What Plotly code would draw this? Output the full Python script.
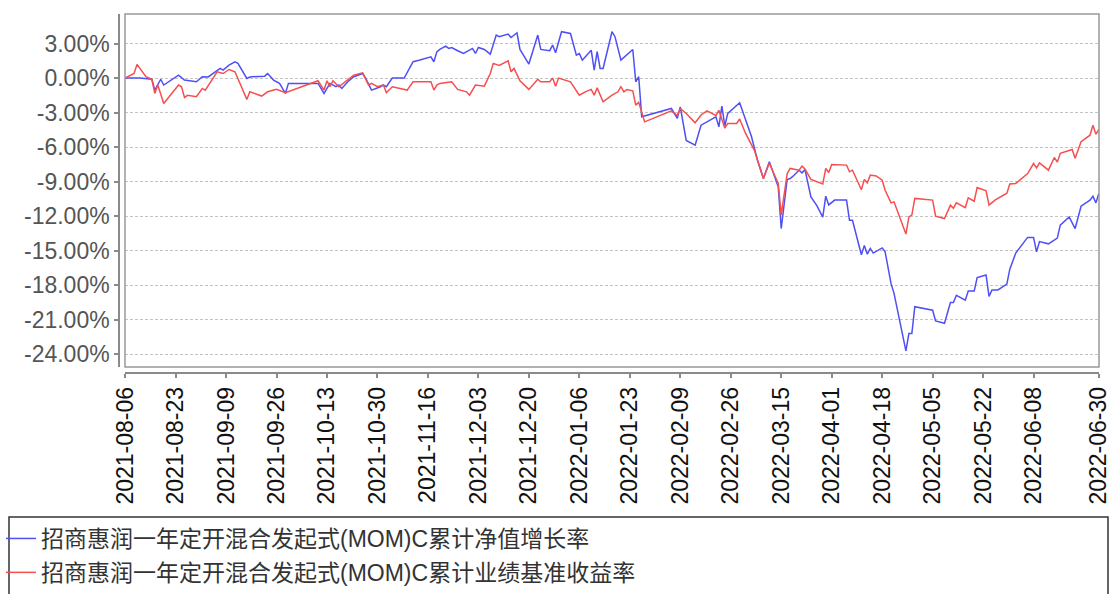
import plotly.graph_objects as go

SERIES_NAMES = ["招商惠润一年定开混合发起式(MOM)C累计净值增长率",
                "招商惠润一年定开混合发起式(MOM)C累计业绩基准收益率"]

BLUE_DATES = [
    "2021-08-06", "2021-08-11", "2021-08-15", "2021-08-16", "2021-08-18", "2021-08-19", "2021-08-24",
    "2021-08-26", "2021-08-30", "2021-09-01", "2021-09-03", "2021-09-07", "2021-09-08", "2021-09-10",
    "2021-09-12", "2021-09-13", "2021-09-16", "2021-09-17", "2021-09-22", "2021-09-23", "2021-09-25",
    "2021-09-27", "2021-09-29", "2021-09-30", "2021-10-10", "2021-10-12", "2021-10-13", "2021-10-14",
    "2021-10-16", "2021-10-17", "2021-10-18", "2021-10-20", "2021-10-22", "2021-10-25", "2021-10-26",
    "2021-10-28", "2021-10-31", "2021-11-01", "2021-11-02", "2021-11-04", "2021-11-08", "2021-11-11",
    "2021-11-13", "2021-11-17", "2021-11-18", "2021-11-19", "2021-11-20", "2021-11-22", "2021-11-23",
    "2021-11-24", "2021-11-26", "2021-11-28", "2021-12-01", "2021-12-02", "2021-12-03", "2021-12-05",
    "2021-12-07", "2021-12-08", "2021-12-09", "2021-12-10", "2021-12-13", "2021-12-14", "2021-12-16",
    "2021-12-17", "2021-12-20", "2021-12-23", "2021-12-24", "2021-12-27", "2021-12-28", "2021-12-29",
    "2021-12-31", "2022-01-03", "2022-01-05", "2022-01-06", "2022-01-07", "2022-01-10", "2022-01-11",
    "2022-01-12", "2022-01-13", "2022-01-14", "2022-01-17", "2022-01-18", "2022-01-20", "2022-01-24",
    "2022-01-25", "2022-01-26", "2022-01-27", "2022-02-06", "2022-02-08", "2022-02-09", "2022-02-11",
    "2022-02-14", "2022-02-16", "2022-02-21", "2022-02-22", "2022-02-23", "2022-02-24", "2022-02-25",
    "2022-03-01", "2022-03-05", "2022-03-07", "2022-03-09", "2022-03-11", "2022-03-14", "2022-03-15",
    "2022-03-17", "2022-03-18", "2022-03-19", "2022-03-21", "2022-03-22", "2022-03-23", "2022-03-25",
    "2022-03-27", "2022-03-29", "2022-03-30", "2022-03-31", "2022-04-02", "2022-04-06", "2022-04-07",
    "2022-04-08", "2022-04-11", "2022-04-12", "2022-04-13", "2022-04-14", "2022-04-15", "2022-04-18",
    "2022-04-19", "2022-04-21", "2022-04-22", "2022-04-26", "2022-04-27", "2022-04-28", "2022-04-29",
    "2022-05-05", "2022-05-06", "2022-05-09", "2022-05-11", "2022-05-12", "2022-05-13", "2022-05-16",
    "2022-05-17", "2022-05-19", "2022-05-20", "2022-05-23", "2022-05-24", "2022-05-25", "2022-05-27",
    "2022-05-30", "2022-05-31", "2022-06-02", "2022-06-06", "2022-06-08", "2022-06-09", "2022-06-10",
    "2022-06-13", "2022-06-16", "2022-06-17", "2022-06-20", "2022-06-22", "2022-06-24", "2022-06-27",
    "2022-06-28", "2022-06-29", "2022-06-30",
]
BLUE_VALUES = [
    0.00, 0.00, -0.10, -1.04, -0.10, -0.60, 0.26,
    -0.17, -0.32, 0.12, 0.10, 0.84, 0.70, 1.13,
    1.42, 1.28, -0.03, 0.10, 0.17, 0.40, -0.17,
    -0.46, -1.33, -0.46, -0.46, -1.33, -0.90, -0.46,
    -0.75, -0.60, -0.90, -0.32, 0.12, 0.40, 0.00,
    -1.04, -0.75, -0.60, -0.75, 0.00, 0.00, 1.42,
    1.55, 1.85, 1.42, 2.28, 2.49, 2.78, 2.58,
    2.66, 2.38, 2.14, 2.58, 2.14, 2.66, 2.49,
    2.08, 3.01, 3.74, 3.60, 3.82, 3.53, 3.94,
    2.49, 1.22, 3.74, 2.49, 2.38, 2.87, 2.20,
    4.03, 3.88, 2.00, 2.14, 1.56, 2.43, 0.70,
    2.30, 0.84, 0.84, 4.03, 3.60, 1.56, 2.49,
    -0.32, 0.12, -3.36, -2.64, -3.50, -2.50, -5.42,
    -5.82, -4.09, -3.36, -4.23, -2.43, -4.14, -3.07,
    -2.14, -5.10, -7.13, -8.72, -7.27, -9.45, -13.07,
    -8.81, -8.72, -8.52, -8.00, -8.23, -7.94, -10.32,
    -11.08, -12.08, -10.26, -11.02, -10.60, -10.60, -12.35,
    -12.35, -15.35, -14.55, -15.30, -14.80, -15.20, -14.75,
    -15.10, -17.86, -18.70, -23.70, -22.20, -22.20, -19.86,
    -20.17, -21.10, -21.30, -19.50, -19.50, -18.87, -19.30,
    -18.50, -18.50, -17.33, -17.10, -18.96, -18.40, -18.40,
    -17.90, -16.60, -15.20, -13.84, -13.84, -15.10, -14.20,
    -14.40, -13.90, -12.78, -12.06, -13.07, -11.13, -10.60,
    -10.26, -10.84, -10.00,
]

RED_DATES = [
    "2021-08-06", "2021-08-09", "2021-08-10", "2021-08-13", "2021-08-15", "2021-08-16", "2021-08-17",
    "2021-08-19", "2021-08-24", "2021-08-25", "2021-08-26", "2021-08-27", "2021-08-30", "2021-09-01",
    "2021-09-02", "2021-09-06", "2021-09-08", "2021-09-10", "2021-09-12", "2021-09-16", "2021-09-17",
    "2021-09-21", "2021-09-23", "2021-09-26", "2021-09-29", "2021-10-06", "2021-10-10", "2021-10-12",
    "2021-10-13", "2021-10-14", "2021-10-15", "2021-10-17", "2021-10-22", "2021-10-25", "2021-10-27",
    "2021-10-28", "2021-10-30", "2021-11-01", "2021-11-02", "2021-11-04", "2021-11-09", "2021-11-11",
    "2021-11-17", "2021-11-18", "2021-11-19", "2021-11-20", "2021-11-23", "2021-11-24", "2021-11-26",
    "2021-11-29", "2021-11-30", "2021-12-02", "2021-12-05", "2021-12-07", "2021-12-08", "2021-12-10",
    "2021-12-13", "2021-12-14", "2021-12-15", "2021-12-17", "2021-12-20", "2021-12-23", "2021-12-24",
    "2021-12-27", "2021-12-28", "2021-12-29", "2021-12-30", "2022-01-03", "2022-01-06", "2022-01-08",
    "2022-01-10", "2022-01-11", "2022-01-12", "2022-01-14", "2022-01-17", "2022-01-19", "2022-01-20",
    "2022-01-21", "2022-01-22", "2022-01-24", "2022-01-25", "2022-01-26", "2022-01-28", "2022-02-06",
    "2022-02-08", "2022-02-09", "2022-02-11", "2022-02-14", "2022-02-16", "2022-02-18", "2022-02-21",
    "2022-02-22", "2022-02-24", "2022-02-25", "2022-02-28", "2022-03-01", "2022-03-03", "2022-03-06",
    "2022-03-09", "2022-03-11", "2022-03-14", "2022-03-15", "2022-03-17", "2022-03-18", "2022-03-21",
    "2022-03-22", "2022-03-23", "2022-03-25", "2022-03-29", "2022-03-30", "2022-03-31", "2022-04-01",
    "2022-04-06", "2022-04-07", "2022-04-08", "2022-04-11", "2022-04-12", "2022-04-13", "2022-04-14",
    "2022-04-16", "2022-04-18", "2022-04-19", "2022-04-21", "2022-04-22", "2022-04-26", "2022-04-27",
    "2022-04-28", "2022-04-29", "2022-05-05", "2022-05-06", "2022-05-09", "2022-05-11", "2022-05-12",
    "2022-05-13", "2022-05-16", "2022-05-17", "2022-05-19", "2022-05-20", "2022-05-23", "2022-05-24",
    "2022-05-26", "2022-05-30", "2022-05-31", "2022-06-02", "2022-06-06", "2022-06-07", "2022-06-08",
    "2022-06-09", "2022-06-10", "2022-06-13", "2022-06-15", "2022-06-16", "2022-06-17", "2022-06-21",
    "2022-06-22", "2022-06-24", "2022-06-27", "2022-06-28", "2022-06-29", "2022-06-30",
]
RED_VALUES = [
    0.00, 0.40, 1.19, 0.12, -0.10, -1.33, -0.60,
    -2.20, -0.60, -0.75, -1.68, -1.50, -1.62, -0.90,
    -1.05, 0.55, 0.40, 0.75, 0.55, -1.85, -1.19,
    -1.56, -1.19, -0.98, -1.27, -0.60, -0.23, -1.04,
    -0.23, -0.75, -0.23, -0.75, 0.26, 0.46, -0.60,
    -0.46, -0.75, -0.60, -1.27, -0.75, -1.04, -0.32,
    -0.32, -1.04, -0.60, -0.46, -0.32, -0.32, -0.98,
    -1.19, -1.48, -0.60, -0.70, 0.40, 1.28, 1.10,
    1.50, 0.55, 0.84, -0.23, -0.98, -0.10, -0.32,
    -0.32, 0.00, -0.70, 0.00, -0.32, -1.48, -1.19,
    -0.98, -1.48, -0.85, -2.06, -1.48, -1.19, -0.75,
    -1.19, -1.00, -1.10, -2.35, -2.10, -3.80, -2.85,
    -3.25, -2.64, -3.07, -3.88, -3.20, -2.84, -3.25,
    -2.80, -4.35, -3.94, -3.94, -3.55, -4.81, -6.30,
    -8.72, -7.40, -9.16, -11.90, -8.30, -7.85, -8.00,
    -7.65, -7.90, -8.80, -9.20, -7.85, -8.20, -7.50,
    -7.56, -8.14, -8.00, -9.70, -8.80, -9.10, -8.43,
    -8.50, -8.87, -9.74, -10.84, -10.75, -13.55, -12.06,
    -11.90, -10.45, -10.60, -12.00, -12.20, -11.04, -11.30,
    -10.84, -11.25, -10.40, -10.70, -9.50, -9.80, -11.04,
    -10.60, -10.00, -9.20, -9.15, -8.29, -7.90, -7.42,
    -7.80, -7.36, -8.00, -6.90, -7.30, -6.54, -6.20,
    -6.97, -5.53, -4.96, -4.09, -4.87, -4.46,
]

X_TICK_DATES = ["2021-08-06", "2021-08-23", "2021-09-09", "2021-09-26", "2021-10-13", "2021-10-30",
                "2021-11-16", "2021-12-03", "2021-12-20", "2022-01-06", "2022-01-23", "2022-02-09",
                "2022-02-26", "2022-03-15", "2022-04-01", "2022-04-18", "2022-05-05", "2022-05-22",
                "2022-06-08", "2022-06-30"]
Y_TICK_VALUES = [3, 0, -3, -6, -9, -12, -15, -18, -21, -24]
X_RANGE = ["2021-08-05 23:00", "2022-06-30 01:00"]
Y_RANGE = [-25.1, 5.57]

BLUE = "#4f4ff5"
RED = "#f54f4f"

W, H = 1110, 594
AX_Y_X, AX_X_Y, PLOT_R, PLOT_T = 119, 373, 1099, 14
ML, MR, MT, MB = AX_Y_X, W - PLOT_R, PLOT_T, H - AX_X_Y
PW = W - ML - MR
PH = H - MT - MB


def px_x(p):
    return (p - ML) / PW


def px_y(p):
    return (H - MB - p) / PH


fig = go.Figure()
fig.add_trace(go.Scatter(x=BLUE_DATES, y=BLUE_VALUES, mode="lines", name=SERIES_NAMES[0],
                         line=dict(color=BLUE, width=1.5), legendgroup="a"))
fig.add_trace(go.Scatter(x=RED_DATES, y=RED_VALUES, mode="lines", name=SERIES_NAMES[1],
                         line=dict(color=RED, width=1.5), legendgroup="b"))

fig.update_layout(
    width=W, height=H,
    margin=dict(l=ML, r=MR, t=MT, b=MB, autoexpand=False),
    paper_bgcolor="white", plot_bgcolor="white",
    showlegend=True,
    legend=dict(x=px_x(1), y=px_y(517), xanchor="left", yanchor="top",
                font=dict(family="Liberation Sans, Noto Sans CJK SC", size=23, color="#333333"),
                bgcolor="rgba(0,0,0,0)", borderwidth=0, tracegroupgap=1,
                itemwidth=30),
    xaxis=dict(type="date", range=X_RANGE, domain=[px_x(125), 1], anchor="free", position=0,
               automargin=False, ticklabeloverflow="allow",
               tickvals=X_TICK_DATES, ticktext=X_TICK_DATES, tickangle=-90,
               tickfont=dict(family="Liberation Sans", size=23, color="#111111"),
               showgrid=False, zeroline=False, showline=True, linecolor="#8a8a8a", linewidth=1.5,
               ticks="outside", ticklen=4, tickcolor="#8a8a8a", tickwidth=1.5),
    yaxis=dict(range=Y_RANGE, domain=[px_y(367), 1], anchor="free", position=0,
               automargin=False, ticklabeloverflow="allow",
               tickvals=Y_TICK_VALUES, ticktext=[f"{v:.2f}%" for v in Y_TICK_VALUES],
               tickfont=dict(family="Liberation Sans", size=23, color="#555555"),
               showgrid=True, gridcolor="#c4c4c4", gridwidth=1, griddash="3px,2px",
               zeroline=False, showline=True, linecolor="#8a8a8a", linewidth=1.5,
               ticks="outside", ticklen=4, tickcolor="#8a8a8a", tickwidth=1.5),
    shapes=[
        dict(type="rect", xref="x domain", yref="y domain", x0=0, x1=1, y0=0, y1=1,
             line=dict(color="#999999", width=1.5), fillcolor="rgba(0,0,0,0)", layer="above"),
        dict(type="rect", xref="paper", yref="paper", x0=px_x(9), x1=px_x(1108),
             y0=px_y(517), y1=px_y(605),
             line=dict(color="#333333", width=1.5), fillcolor="rgba(0,0,0,0)"),
    ],
)

fig.write_html("out.html",
               config={"displayModeBar": False},
               post_script="document.body.style.margin='0';document.body.style.overflow='hidden';")
